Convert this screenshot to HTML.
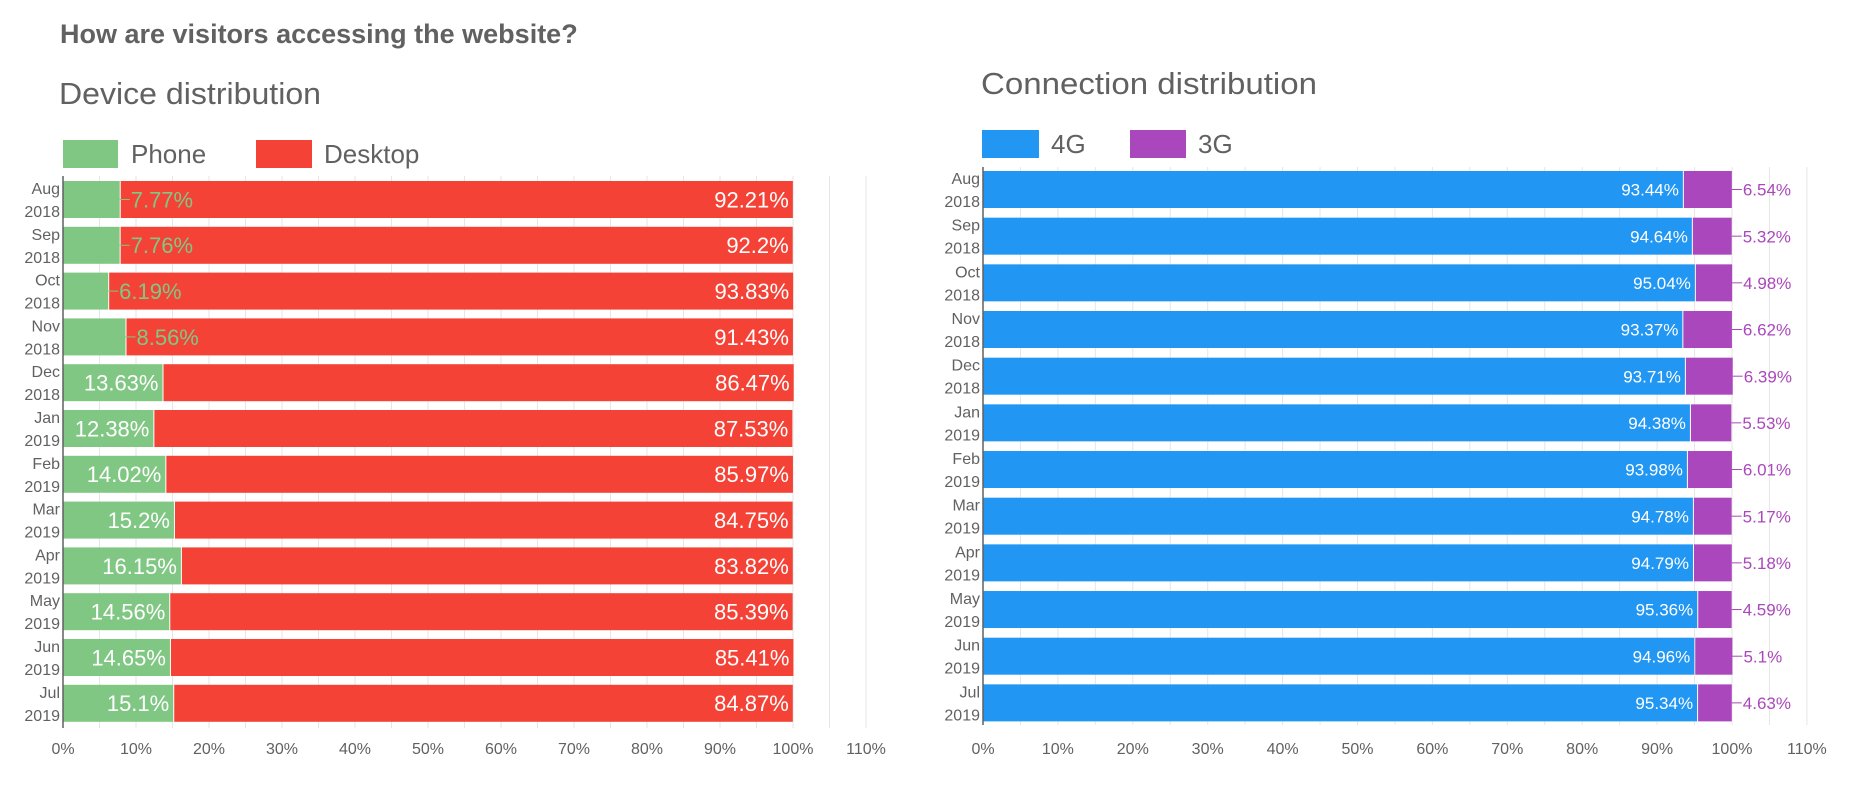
<!DOCTYPE html>
<html><head><meta charset="utf-8"><style>
html,body{margin:0;padding:0;background:#fff;}
svg{display:block;font-family:"Liberation Sans",sans-serif;}
</style></head><body>
<svg id="s" width="1866" height="786" xmlns="http://www.w3.org/2000/svg">
<text x="60" y="43" font-size="27" font-weight="bold" fill="#616161">How are visitors accessing the website?</text>
<text x="59" y="104" font-size="31" fill="#616161" textLength="262" lengthAdjust="spacingAndGlyphs">Device distribution</text>
<rect x="63" y="140" width="55" height="28" fill="#81c784"/><text x="131" y="163" font-size="26" fill="#616161">Phone</text>
<rect x="256" y="140" width="56" height="28" fill="#f44336"/><text x="324" y="163" font-size="26" fill="#616161">Desktop</text>
<text x="981" y="94" font-size="31" fill="#616161" textLength="336" lengthAdjust="spacingAndGlyphs">Connection distribution</text>
<rect x="982" y="130" width="57" height="28" fill="#2196f3"/><text x="1051" y="153" font-size="26" fill="#616161">4G</text>
<rect x="1130" y="130" width="56" height="28" fill="#ab47bc"/><text x="1198" y="153" font-size="26" fill="#616161">3G</text>
</svg>
<script>
var s=document.getElementById('s'),h='';
var months=[['Aug','2018'],['Sep','2018'],['Oct','2018'],['Nov','2018'],['Dec','2018'],['Jan','2019'],['Feb','2019'],['Mar','2019'],['Apr','2019'],['May','2019'],['Jun','2019'],['Jul','2019']];
var ph=[7.77,7.76,6.19,8.56,13.63,12.38,14.02,15.2,16.15,14.56,14.65,15.1];
var de=[92.21,92.2,93.83,91.43,86.47,87.53,85.97,84.75,83.82,85.39,85.41,84.87];
var g4=[93.44,94.64,95.04,93.37,93.71,94.38,93.98,94.78,94.79,95.36,94.96,95.34];
var g3=[6.54,5.32,4.98,6.62,6.39,5.53,6.01,5.17,5.18,4.59,5.1,4.63];
function chart(x0,w,top,y0,pitch,bot,ly,a,b,ca,cb,fs,left){
 var u=w/100;
 for(var p=5;p<=110;p+=5){var gx=x0+p*u;h+='<line x1="'+gx+'" y1="'+top+'" x2="'+gx+'" y2="'+bot+'" stroke="#e6e6e6" stroke-width="1"/>';}
 for(var p=0;p<=110;p+=10){h+='<text x="'+(x0+p*u)+'" y="'+ly+'" font-size="16" fill="#616161" text-anchor="middle">'+p+'%</text>';}
 for(var i=0;i<12;i++){
  var y=y0+i*pitch,bh=37,wa=a[i]*u,wb=b[i]*u;
  h+='<rect x="'+x0+'" y="'+y+'" width="'+wa+'" height="'+bh+'" fill="'+ca+'"/>';
  h+='<rect x="'+(x0+wa+1)+'" y="'+y+'" width="'+(wb-1)+'" height="'+bh+'" fill="'+cb+'"/>';
  h+='<text x="'+(x0-3)+'" y="'+(y+13)+'" font-size="16" fill="#616161" text-anchor="end">'+months[i][0]+'</text>';
  h+='<text x="'+(x0-3)+'" y="'+(y+36)+'" font-size="16" fill="#616161" text-anchor="end">'+months[i][1]+'</text>';
  var cy=y+bh/2+fs*0.36;
  if(left){
   if(a[i]>=12){h+='<text x="'+(x0+wa-4)+'" y="'+cy+'" font-size="'+fs+'" fill="#fff" text-anchor="end">'+a[i]+'%</text>';}
   else{var ex=x0+wa;h+='<line x1="'+ex+'" y1="'+(y+bh/2)+'" x2="'+(ex+10)+'" y2="'+(y+bh/2)+'" stroke="#81c784"/><text x="'+(ex+11)+'" y="'+cy+'" font-size="'+fs+'" fill="#81c784">'+a[i]+'%</text>';}
   h+='<text x="'+(x0+wa+wb-4)+'" y="'+cy+'" font-size="'+fs+'" fill="#fff" text-anchor="end">'+b[i]+'%</text>';
  }else{
   h+='<text x="'+(x0+wa-4)+'" y="'+cy+'" font-size="'+fs+'" fill="#fff" text-anchor="end">'+a[i]+'%</text>';
   var ex=x0+wa+wb;h+='<line x1="'+ex+'" y1="'+(y+bh/2)+'" x2="'+(ex+10)+'" y2="'+(y+bh/2)+'" stroke="#ab47bc"/><text x="'+(ex+11)+'" y="'+cy+'" font-size="'+fs+'" fill="#ab47bc">'+b[i]+'%</text>';
  }
 }
 h+='<line x1="'+x0+'" y1="'+top+'" x2="'+x0+'" y2="'+bot+'" stroke="#616161" stroke-width="1.5"/>';
}
chart(63,730,176,181,45.8,728,754,ph,de,'#81c784','#f44336',22,true);
chart(983,749,167,171,46.67,725,754,g4,g3,'#2196f3','#ab47bc',17,false);
s.insertAdjacentHTML('beforeend',h);
</script>
</body></html>
